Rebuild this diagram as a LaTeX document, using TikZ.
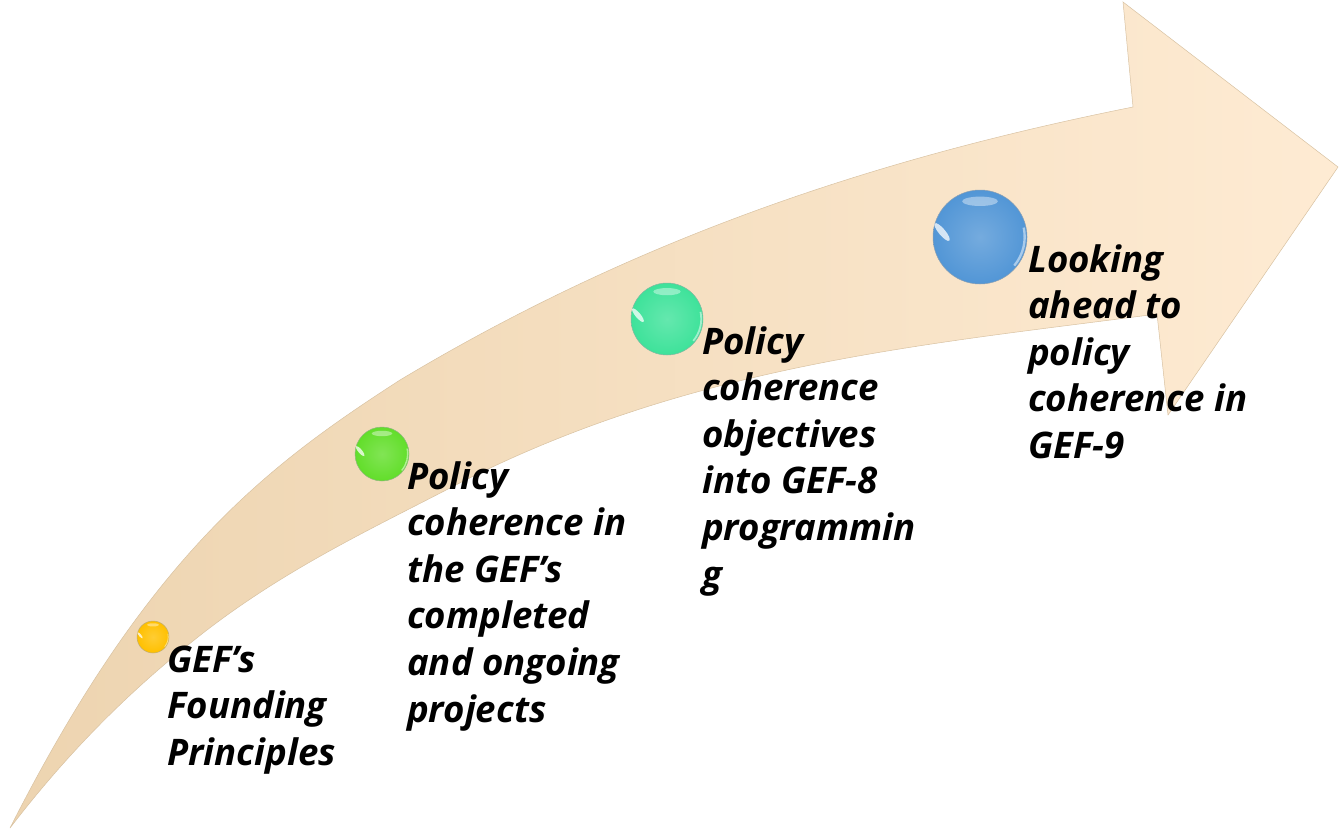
\documentclass[tikz,border=0pt]{standalone}
\usepackage{fontspec}
\setmainfont{Open Sans}
\usetikzlibrary{calc}
\definecolor{arrL}{HTML}{EDD4B0}
\definecolor{arrR}{HTML}{FEEBD3}
\definecolor{arrEdge}{HTML}{D8C2A2}
\definecolor{orbY}{HTML}{FFC000}
\definecolor{orbG}{HTML}{62DE2A}
\definecolor{orbT}{HTML}{3EE29A}
\definecolor{orbB}{HTML}{5296D6}
\newcommand{\myorb}[4]{%
  \node[circle, inner sep=0pt, minimum size=#3*2pt, draw=#4!55!black!55, line width=0.5pt,
        inner color=#4!80!white, outer color=#4] (#1) at (#2) {};
  \fill[white, opacity=0.4] ($(#1)+(0,-0.76*#3)$) ellipse [x radius=0.38*#3 pt, y radius=0.1*#3 pt];
  \fill[white, opacity=0.75, rotate around={-50:($(#1)+(-0.6*#3,0.55*#3)$)}]
        ($(#1)+(-0.6*#3,0.55*#3)$) ellipse [x radius=0.24*#3 pt, y radius=0.07*#3 pt];
  \draw[white, opacity=0.5, line width=0.05*#3 pt] ($(#1)+(0.93*#3,-0.2*#3)$) arc[start angle=12, end angle=-40, radius=0.95*#3 pt];
}
\tikzset{lab/.style={inner sep=0pt, anchor=base west,
  font=\fontsize{36.6}{46.6}\selectfont\bfseries\itshape, text=black}}
\begin{document}
\begin{tikzpicture}[x=1pt,y=-1pt]
\useasboundingbox (0,0) rectangle (1340,831);
% curved arrow
\shade[left color=arrL, right color=arrR, draw=arrEdge, line width=0.5pt, line join=miter]
  (10,828) .. controls (150,552) and (270,464) .. (400,380)
  .. controls (645,233) and (888,156) .. (1133,107)
  -- (1123,2) -- (1338,167) -- (1168,415) -- (1157,314)
  .. controls (921,345) and (686,365) .. (450,488)
  .. controls (369,530) and (288,568) .. (207,630)
  .. controls (141,681) and (76,742) .. (10,828)
  -- cycle;
% orbs
\myorb{o1}{153,637}{16}{orbY}
\myorb{o2}{382,454}{27}{orbG}
\myorb{o3}{667,319}{36}{orbT}
\myorb{o4}{980,237}{47}{orbB}
% labels
\node[lab] (t1) at (167,672) {\begin{tabular}[t]{@{}l@{}}GEF’s\\Founding\\Principles\end{tabular}};
\node[lab] (t2) at (407,489) {\begin{tabular}[t]{@{}l@{}}Policy\\coherence in\\the GEF’s\\completed\\and ongoing\\projects\end{tabular}};
\node[lab] (t3) at (702,354) {\begin{tabular}[t]{@{}l@{}}Policy\\coherence\\objectives\\into GEF-8\\programmin\\g\end{tabular}};
\node[lab] (t4) at (1028,272) {\begin{tabular}[t]{@{}l@{}}Looking\\ahead to\\policy\\coherence in\\GEF-9\end{tabular}};
\end{tikzpicture}
\end{document}
